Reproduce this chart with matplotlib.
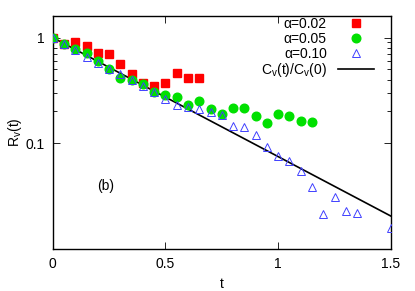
import matplotlib
matplotlib.use("Agg")
import matplotlib.pyplot as plt
from matplotlib.lines import Line2D
from matplotlib.ticker import FixedLocator, NullLocator, NullFormatter

plt.rcParams['font.family'] = ['Liberation Sans', 'DejaVu Sans']
plt.rcParams['mathtext.default'] = 'regular'

# alpha = 0.02 (red squares)
t_a002 = [0.00, 0.05, 0.10, 0.15, 0.20, 0.25, 0.30, 0.35, 0.40, 0.45, 0.50, 0.55, 0.60, 0.65]
r_a002 = [1.00, 0.864, 0.908, 0.84, 0.714, 0.695, 0.562, 0.449, 0.371, 0.345, 0.371, 0.466, 0.411, 0.411]

# alpha = 0.05 (green circles)
t_a005 = [0.00, 0.05, 0.10, 0.15, 0.20, 0.25, 0.30, 0.35, 0.40, 0.45, 0.50, 0.55,
          0.60, 0.65, 0.70, 0.75, 0.80, 0.85, 0.90, 0.95, 1.00, 1.05, 1.10, 1.15]
r_a005 = [1.00, 0.864, 0.779, 0.714, 0.605, 0.504, 0.411, 0.400, 0.360, 0.303, 0.288, 0.272,
          0.228, 0.250, 0.213, 0.188, 0.215, 0.217, 0.180, 0.156, 0.191, 0.182, 0.162, 0.160]

# alpha = 0.10 (blue open triangles)
t_a010 = [0.00, 0.05, 0.10, 0.15, 0.20, 0.25, 0.30, 0.35, 0.40, 0.45, 0.50, 0.55,
          0.60, 0.65, 0.70, 0.75, 0.80, 0.85, 0.90, 0.95, 1.00, 1.05, 1.10, 1.15,
          1.20, 1.25, 1.30, 1.35, 1.50]
r_a010 = [1.00, 0.877, 0.762, 0.654, 0.579, 0.500, 0.455, 0.394, 0.345, 0.307, 0.260, 0.228,
          0.221, 0.212, 0.197, 0.184, 0.147, 0.141, 0.119, 0.0925, 0.0764, 0.0681, 0.0551, 0.0386,
          0.0215, 0.0310, 0.0229, 0.0219, 0.0156]

# C_v(t)/C_v(0) reference curve (straight on the log axis)
t_cv = [0.0, 0.5, 1.0, 1.5]
r_cv = [1.0, 0.273, 0.0746, 0.0204]

fig = plt.figure(figsize=(4.15, 2.91), dpi=100)
ax = fig.add_axes([0.127, 0.145, 0.815, 0.80])

ax.plot(t_cv, r_cv, color='black', lw=1.2, zorder=1)
ax.plot(t_a002, r_a002, ls='none', marker='s', ms=6.0, color='#ff0000', mec='#ff0000', zorder=2)
ax.plot(t_a005, r_a005, ls='none', marker='o', ms=6.2, color='#00e000', mec='#00e000', zorder=3)
ax.plot(t_a010, r_a010, ls='none', marker='^', ms=6.2, mfc='none', mec='#4040ff', mew=0.7, zorder=4)

ax.set_yscale('log')
ax.set_xlim(0, 1.5)
ax.set_ylim(0.01, 1.6)

ax.set_xticks([0, 0.5, 1, 1.5])
ax.set_xticklabels(['0', '0.5', '1', '1.5'])
ax.yaxis.set_major_locator(FixedLocator([0.1, 1]))
ax.set_yticklabels(['0.1', '1'])
ax.yaxis.set_minor_locator(FixedLocator([0.2, 0.3, 0.4, 0.5, 0.6, 0.7, 0.8, 0.9]))
ax.yaxis.set_minor_formatter(NullFormatter())
ax.xaxis.set_minor_locator(NullLocator())
ax.tick_params(which='both', direction='in', top=True, right=True, labelsize=10, width=0.6)
ax.tick_params(which='major', length=5, pad=6)
ax.tick_params(which='minor', length=3)
for s in ax.spines.values():
    s.set_linewidth(1.0)

ax.set_xlabel('t', fontsize=10, labelpad=4)
ax.set_ylabel('R$_{v}$(t)', fontsize=10, labelpad=1)

ax.text(0.235, 0.039, '(b)', fontsize=10, ha='center', va='center')

handles = [
    Line2D([], [], ls='none', marker='s', ms=6.0, color='#ff0000'),
    Line2D([], [], ls='none', marker='o', ms=6.2, color='#00e000'),
    Line2D([], [], ls='none', marker='^', ms=6.2, mfc='none', mec='#4040ff', mew=0.7),
    Line2D([], [], color='black', lw=1.2),
]
labels = ['α=0.02', 'α=0.05', 'α=0.10', 'C$_{v}$(t)/C$_{v}$(0)']
ax.legend(handles, labels, loc='upper right', bbox_to_anchor=(0.95, 0.995),
          frameon=False, markerfirst=False, fontsize=10, borderpad=0, borderaxespad=0,
          handlelength=2.6, handletextpad=0.8, labelspacing=0.05)

fig.savefig('out.png', dpi=100)
